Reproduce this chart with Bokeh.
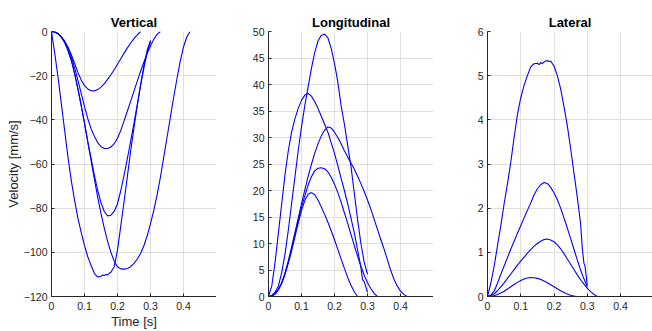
from bokeh.plotting import figure
from bokeh.layouts import row
from bokeh.embed import file_html
from bokeh.resources import INLINE

# ---------------- data ----------------
def grid(n):
    return [round(i * 0.01, 3) for i in range(n)]

# Vertical velocity [mm/s]
vert_A = [0, -0.2, -1, -2.5, -4.5, -7, -10.5, -14.5, -18.5, -22, -24.5, -26, -26.8, -26.9,
          -26.3, -25.2, -23.6, -21.7, -19.6, -17.3, -14.8, -12.3, -9.8, -7.4, -5.2, -3.2, -1.5, 0]
vert_B = [0, -0.2, -1, -2.5, -4.5, -7.5, -11.5, -16.5, -22, -28, -34, -39.5, -44, -47.5, -50.3,
          -52.2, -53, -53, -52.3, -50.8, -48.3, -44.8, -40.5, -36, -31.5, -27, -22.5, -18, -13.8,
          -10, -6.5, -3.5, -1.3, 0]
vert_C = [0, -0.2, -1, -2.5, -5, -8.5, -13, -19, -26, -33.5, -41.5, -50, -57.5, -65, -72, -77.5,
          -81.5, -83.5, -83.2, -81.5, -78, -72, -65, -57.5, -49.5, -41.5, -33, -24.5, -16.5, -9.5, -4.5]
vert_D = [0, -0.2, -1, -2.5, -5, -8.5, -13, -19, -26, -33.5, -41.5, -50, -58.5, -67, -75, -82.5,
          -89, -95, -100, -104, -106.5, -107.5, -107.6, -107.3, -106.5, -105, -103, -100.5, -97,
          -92.5, -87, -81, -74, -66, -57, -48, -39, -30, -21.5, -13.5, -7, -2.5, 0]
vert_E_t = [0, 0.01, 0.02, 0.03, 0.04, 0.05, 0.06, 0.07, 0.08, 0.09, 0.10, 0.11, 0.12, 0.13, 0.14,
            0.15, 0.155, 0.16, 0.165, 0.17, 0.175, 0.18, 0.19, 0.20, 0.21, 0.22, 0.23, 0.24, 0.25,
            0.26, 0.27, 0.28, 0.29, 0.30]
vert_E = [0, -10, -21, -33, -45, -57, -67.5, -76.5, -84.5, -91, -97, -102, -106, -109.5, -111.2,
          -110.8, -110.3, -110.5, -110.0, -110.2, -109.5, -109, -106.5, -99, -88, -77, -65.5, -54,
          -43.5, -33.5, -24, -15.5, -8.5, -4]

# Longitudinal velocity [mm/s]
long_A = [0, 0.1, 0.5, 1.3, 2.5, 4.2, 6.3, 8.6, 11.2, 13.8, 16.2, 18.1, 19.3, 19.6, 19.2, 18.2,
          16.9, 15.5, 14, 12.4, 10.7, 8.9, 7.1, 5.3, 3.6, 2.1, 0.9, 0]
long_B = [0, 0.1, 0.5, 1.3, 2.5, 4.3, 6.5, 9, 11.7, 14.3, 16.8, 19, 21, 22.6, 23.7, 24.2, 24.3,
          24.1, 23.5, 22.5, 21.2, 19.6, 17.8, 15.8, 13.8, 11.7, 9.6, 7.6, 5.7, 4, 2.6, 1.5, 0.6, 0]
long_C = [0, 0.2, 0.8, 2, 4.5, 8, 12.5, 17.5, 22.5, 27.5, 32, 36, 39.5, 43, 46, 48.2, 49.3, 49.5,
          48.8, 46.8, 44, 40.5, 36, 32.5, 28.5, 24.5, 19.5, 14.5, 10, 6.5, 4.2]
long_D = [0, 0.1, 0.5, 1.3, 2.6, 4.4, 6.7, 9.3, 12, 14.8, 17.5, 20.1, 22.6, 24.9, 27, 28.8, 30.3,
          31.4, 32, 31.8, 31, 30, 28.8, 27.5, 26.3, 25.2, 24, 22.7, 21.3, 19.8, 18.2, 16.5, 14.6,
          12.7, 10.8, 9, 7, 5, 3.3, 2, 1, 0.4, 0]
long_E_t = [0, 0.01, 0.02, 0.03, 0.04, 0.05, 0.06, 0.07, 0.08, 0.09, 0.10, 0.11, 0.12, 0.13, 0.14,
            0.15, 0.16, 0.17, 0.18, 0.19, 0.20, 0.21, 0.22, 0.23, 0.24, 0.25, 0.26, 0.27, 0.28,
            0.285, 0.29, 0.295, 0.30]
long_E = [0, 2, 6.5, 12, 17.5, 23, 27.5, 31, 33.5, 35.5, 37, 38, 38.3, 37.8, 36.8, 35.5, 34, 32.5,
          31, 29, 27, 24.7, 22.3, 20, 17.5, 14.8, 12, 8.8, 5.5, 3.2, 2.8, 1.8, 0.8]

# Lateral velocity [mm/s]
lat_A = [0, 0.005, 0.02, 0.045, 0.08, 0.12, 0.17, 0.22, 0.27, 0.32, 0.36, 0.395, 0.42, 0.43,
         0.425, 0.41, 0.385, 0.35, 0.31, 0.265, 0.22, 0.175, 0.13, 0.09, 0.055, 0.03, 0.01, 0]
lat_B = [0, 0.02, 0.06, 0.13, 0.22, 0.31, 0.41, 0.51, 0.61, 0.71, 0.8, 0.89, 0.98, 1.06, 1.14,
         1.2, 1.25, 1.29, 1.3, 1.28, 1.24, 1.17, 1.08, 0.97, 0.85, 0.73, 0.61, 0.49, 0.38, 0.28,
         0.19, 0.11, 0.05, 0]
lat_C = [0, 0.03, 0.12, 0.3, 0.5, 0.69, 0.88, 1.07, 1.25, 1.43, 1.6, 1.78, 1.95, 2.12, 2.3, 2.44,
         2.53, 2.58, 2.56, 2.47, 2.35, 2.19, 2.0, 1.78, 1.55, 1.31, 1.07, 0.83, 0.6, 0.4, 0.22]
lat_D_t = [0, 0.1, 0.2, 0.3, 0.42]
lat_D = [0, 0, 0, 0, 0]
lat_E_t = [0, 0.01, 0.02, 0.03, 0.04, 0.05, 0.06, 0.07, 0.08, 0.09, 0.10, 0.11, 0.12, 0.13, 0.14,
           0.15, 0.155, 0.16, 0.165, 0.17, 0.175, 0.18, 0.185, 0.19, 0.20, 0.21, 0.22, 0.23, 0.24,
           0.25, 0.26, 0.27, 0.28, 0.285, 0.29, 0.293, 0.297, 0.30]
lat_E = [0, 0.3, 0.68, 1.15, 1.6, 2.1, 2.55, 3.04, 3.6, 4.12, 4.5, 4.78, 5.0, 5.2, 5.27, 5.28, 5.25,
         5.3, 5.27, 5.31, 5.33, 5.34, 5.32, 5.33, 5.22, 5.0, 4.7, 4.3, 3.87, 3.35, 2.8, 2.25, 1.65,
         1.1, 0.75, 0.7, 0.45, 0.25]

x_ticks = [0, 0.1, 0.2, 0.3, 0.4]
x_tick_labels = ["0", "0.1", "0.2", "0.3", "0.4"]
vert_ticks = [-120, -100, -80, -60, -40, -20, 0]
long_ticks = [0, 5, 10, 15, 20, 25, 30, 35, 40, 45, 50]
lat_ticks = [0, 1, 2, 3, 4, 5, 6]

series = {
    "Vertical": [(grid(len(vert_A)), vert_A), (grid(len(vert_B)), vert_B),
                 (grid(len(vert_C)), vert_C), (grid(len(vert_D)), vert_D), (vert_E_t, vert_E)],
    "Longitudinal": [(grid(len(long_A)), long_A), (grid(len(long_B)), long_B),
                     (grid(len(long_C)), long_C), (grid(len(long_D)), long_D), (long_E_t, long_E)],
    "Lateral": [(grid(len(lat_A)), lat_A), (grid(len(lat_B)), lat_B),
                (grid(len(lat_C)), lat_C), (lat_D_t, lat_D), (lat_E_t, lat_E)],
}

FONT = "Liberation Sans"
AX = "#262626"
GRID = "#dfdfdf"
BLUE = "#0000ff"
H = 331


def make(title, width, left, xend, yrange, yticks):
    p = figure(width=width, height=H, x_range=(0, xend), y_range=yrange,
               output_backend="svg", toolbar_location=None,
               min_border_left=left, min_border_right=0, min_border_top=31, min_border_bottom=34)
    p.outline_line_color = None
    p.background_fill_color = "white"
    p.title.text = title
    p.title.text_font = FONT
    p.title.text_font_size = "13px"
    p.title.text_font_style = "bold"
    p.title.text_color = "#000000"
    p.title.align = "center"
    p.title.standoff = 4
    for ax in (p.xaxis, p.yaxis):
        ax.axis_line_color = AX
        ax.major_tick_line_color = AX
        ax.major_tick_in = 3
        ax.major_tick_out = 0
        ax.minor_tick_line_color = None
        ax.major_label_text_font = FONT
        ax.major_label_text_font_size = "10.5px"
        ax.major_label_text_color = AX
        ax.major_label_standoff = 4
    p.xaxis.major_label_standoff = 5
    p.xaxis.ticker = x_ticks
    p.xaxis.major_label_overrides = {t: s for t, s in zip(x_ticks, x_tick_labels)}
    p.yaxis.ticker = yticks
    p.grid.grid_line_color = GRID
    p.grid.grid_line_width = 1
    for t, v in series[title]:
        p.line(t, v, line_color=BLUE, line_width=1.1)
    return p


p1 = make("Vertical", 216, 51, 0.5, (-120, 0), vert_ticks)
for ax in (p1.xaxis, p1.yaxis):
    ax.axis_label_text_font = FONT
    ax.axis_label_text_font_size = "13px"
    ax.axis_label_text_font_style = "normal"
    ax.axis_label_text_color = AX
    ax.axis_label_standoff = 0
p1.yaxis.axis_label = "Velocity [mm/s]"
p1.xaxis.axis_label = "Time [s]"
p1.xaxis.axis_label_standoff = 1

p2 = make("Longitudinal", 217, 52, 0.5, (0, 50), long_ticks)
p3 = make("Lateral", 219, 54, 0.4962, (0, 6), lat_ticks)

layout = row(p1, p2, p3, spacing=0)
open("out.html", "w").write(file_html(layout, INLINE))
